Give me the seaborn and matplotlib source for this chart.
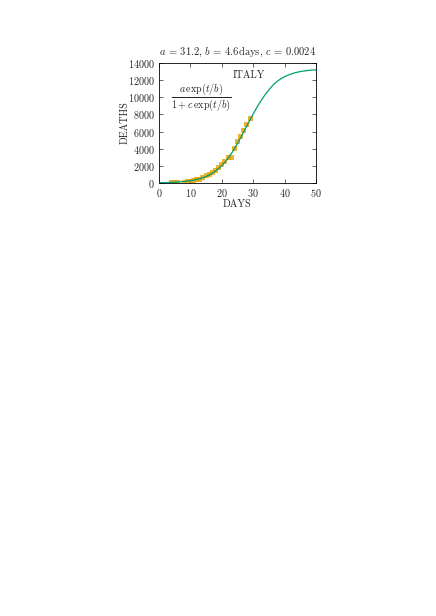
import matplotlib
matplotlib.use("Agg")
import matplotlib.pyplot as plt
import pandas as pd
import seaborn as sns

# ---- data ----
# fitted curve (green line), deaths per day
curve_days = list(range(0, 51))
curve_deaths = [31, 39, 48, 60, 74, 92, 114, 141, 175, 217,
                269, 332, 410, 506, 623, 766, 938, 1146, 1394, 1689,
                2034, 2436, 2895, 3414, 3989, 4613, 5279, 5972, 6678, 7378,
                8060, 8710, 9320, 9880, 10400, 10880, 11300, 11660, 11960, 12200,
                12400, 12570, 12710, 12830, 12920, 13000, 13060, 13110, 13150, 13180,
                13210]

# observed deaths (orange squares)
obs_days = [4, 5, 6, 8, 9, 10, 11, 12, 13, 14, 15, 16, 17, 18,
            19, 20, 21, 22, 23, 24, 25, 26, 27, 28, 29]
obs_deaths = [12, 17, 21, 107, 148, 197, 233, 366, 463, 631, 827, 1016, 1266, 1441,
              1809, 2158, 2503, 2978, 2978, 4032, 4825, 5476, 6077, 6820, 7503]

title = "$a$ = 31.2, $b$ = 4.6days, $c$ = 0.0024"
formula = r"$\dfrac{a\,\exp(t/b)}{1+c\,\exp(t/b)}$"
country = "ITALY"

curve = pd.DataFrame({"days": curve_days, "deaths": curve_deaths})
obs = pd.DataFrame({"days": obs_days, "deaths": obs_deaths})

sns.set_theme(style="ticks")
plt.rcParams["font.family"] = ["cmr10", "DejaVu Serif"]
plt.rcParams["mathtext.fontset"] = "cm"
plt.rcParams["axes.formatter.use_mathtext"] = True

fig = plt.figure(figsize=(4.36, 6.16), dpi=100)
ax = fig.add_axes([159 / 436, 1 - 183 / 616, 157 / 436, 120 / 616])

sns.scatterplot(data=obs, x="days", y="deaths", ax=ax, marker="s", s=13,
                color="#E69F00", edgecolor="none", alpha=0.8, zorder=2)
sns.lineplot(data=curve, x="days", y="deaths", ax=ax, color="#009E73",
             linewidth=0.9, zorder=3)

ax.set_xlim(0, 50)
ax.set_ylim(0, 14000)
ax.set_xticks(range(0, 51, 10))
ax.set_yticks(range(0, 14001, 2000))
ax.tick_params(direction="in", length=3, width=0.5, labelsize=7.3,
               top=True, right=True, pad=3)
for sp in ax.spines.values():
    sp.set_linewidth(0.6)
    sp.set_color("black")

ax.set_xlabel("DAYS", fontsize=7.3, labelpad=0)
ax.set_ylabel("DEATHS", fontsize=7.3, labelpad=-1)
ax.set_title(title, fontsize=7.6, pad=6)

ax.text(28.7, 12600, country, fontsize=7.3, ha="center", va="center")
ax.text(13.5, 9950, formula, fontsize=7.3, ha="center", va="center")

fig.savefig("out.png", dpi=100)
